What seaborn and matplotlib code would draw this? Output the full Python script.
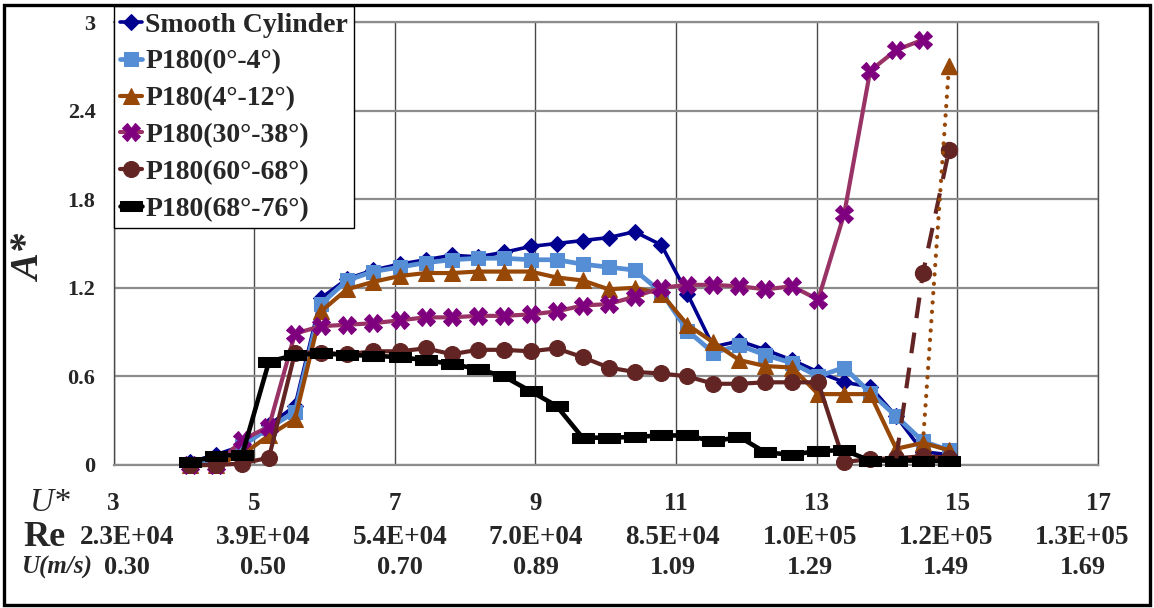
import numpy as np
import pandas as pd
import matplotlib
matplotlib.use("Agg")
import matplotlib.pyplot as plt
from matplotlib.patches import Rectangle
from matplotlib.path import Path
from matplotlib.transforms import blended_transform_factory
import seaborn as sns

# ---- data -------------------------------------------------------------
u_star = [4.09, 4.46, 4.83, 5.21, 5.58, 5.95, 6.32, 6.69, 7.07, 7.44,
          7.81, 8.18, 8.55, 8.93, 9.30, 9.67, 10.04, 10.41, 10.79, 11.16,
          11.53, 11.90, 12.27, 12.65, 13.02, 13.39, 13.76, 14.13, 14.51, 14.88]

smooth = [0.02, 0.07, 0.13, 0.27, 0.40, 1.13, 1.26, 1.32, 1.36, 1.39,
          1.42, 1.41, 1.44, 1.48, 1.50, 1.52, 1.54, 1.58, 1.49, 1.16,
          0.80, 0.84, 0.78, 0.71, 0.63, 0.56, 0.53, 0.33, 0.09, 0.07]

p180_0_4 = [0.01, 0.03, 0.13, 0.25, 0.36, 1.09, 1.25, 1.31, 1.34, 1.37,
            1.39, 1.40, 1.40, 1.39, 1.39, 1.36, 1.34, 1.32, 1.17, 0.91,
            0.76, 0.81, 0.745, 0.69, 0.60, 0.66, 0.49, 0.33, 0.16, 0.10]

p180_4_12 = [0.00, 0.00, 0.07, 0.20, 0.31, 1.04, 1.19, 1.24, 1.28, 1.30,
             1.30, 1.31, 1.31, 1.31, 1.27, 1.25, 1.19, 1.20, 1.16, 0.95,
             0.83, 0.71, 0.67, 0.66, 0.48, 0.48, 0.48, 0.11, 0.15, 0.10]

p180_30_38 = [0.00, 0.00, 0.17, 0.26, 0.89, 0.94, 0.95, 0.96, 0.98, 1.00,
              1.00, 1.01, 1.01, 1.02, 1.04, 1.08, 1.09, 1.14, 1.20, 1.22,
              1.22, 1.21, 1.19, 1.21, 1.12, 1.70, 2.67, 2.81, 2.88, np.nan]

p180_60_68 = [0.00, 0.00, 0.01, 0.05, 0.76, 0.76, 0.75, 0.77, 0.77, 0.79,
              0.75, 0.78, 0.78, 0.77, 0.79, 0.73, 0.66, 0.63, 0.62, 0.60,
              0.55, 0.55, 0.56, 0.56, 0.56, 0.02, 0.04, 0.045, 0.06, 0.05]

p180_68_76 = [0.02, 0.06, 0.07, 0.70, 0.745, 0.756, 0.745, 0.74, 0.73, 0.71,
              0.684, 0.65, 0.60, 0.50, 0.40, 0.185, 0.185, 0.19, 0.20, 0.20,
              0.16, 0.19, 0.085, 0.07, 0.095, 0.10, 0.03, 0.03, 0.03, 0.025]

# upper (galloping) branches at the highest speeds
branch_60_68_x = [14.13, 14.51, 14.88]
branch_60_68_y = [0.045, 1.30, 2.13]
branch_4_12_x = [14.51, 14.88]
branch_4_12_y = [0.15, 2.70]

series_labels = ["Smooth Cylinder", "P180(0°-4°)", "P180(4°-12°)",
                 "P180(30°-38°)", "P180(60°-68°)", "P180(68°-76°)"]

ustar_ticks = [3, 5, 7, 9, 11, 13, 15, 17]
re_labels = ["2.3E+04", "3.9E+04", "5.4E+04", "7.0E+04",
             "8.5E+04", "1.0E+05", "1.2E+05", "1.3E+05"]
u_labels = ["0.30", "0.50", "0.70", "0.89", "1.09", "1.29", "1.49", "1.69"]
row_label_x = [3.19, 5.13, 7.07, 9.01, 10.95, 12.90, 14.84, 16.78]
y_ticks = [0, 0.6, 1.2, 1.8, 2.4, 3]
y_tick_labels = ["0", "0.6", "1.2", "1.8", "2.4", "3"]

# ---- style ------------------------------------------------------------
sns.set_style("white")
plt.rcParams["font.family"] = ["Liberation Serif", "DejaVu Serif"]
plt.rcParams["font.weight"] = "bold"

NAVY = "#000090"
LBLUE = "#558ED5"
ORANGE = "#974706"
PURPLE = "#7F007F"
PURPLE_LINE = "#993366"
MAROON = "#632523"
BLACK = "#000000"

bar_marker = Path([(-1, -0.4), (1, -0.4), (1, 0.4), (-1, 0.4), (-1, -0.4)],
                  [Path.MOVETO, Path.LINETO, Path.LINETO, Path.LINETO, Path.CLOSEPOLY])

fig = plt.figure(figsize=(11.54, 6.08), dpi=100)
ax = fig.add_axes([0.0984, 0.2352, 0.8531, 0.7286])

styles = [
    (smooth, dict(color=NAVY, lw=2.6, marker="D", ms=8.5, mfc=NAVY, mec=NAVY)),
    (p180_0_4, dict(color=LBLUE, lw=3.4, marker="s", ms=10.5, mfc=LBLUE, mec=LBLUE)),
    (p180_4_12, dict(color=ORANGE, lw=3.0, marker="^", ms=12.0, mfc=ORANGE, mec=ORANGE)),
    (p180_30_38, dict(color=PURPLE_LINE, lw=3.0, marker="X", ms=12.5, mfc=PURPLE, mec=PURPLE)),
    (p180_60_68, dict(color=MAROON, lw=3.0, marker="o", ms=11.5, mfc=MAROON, mec=MAROON)),
    (p180_68_76, dict(color=BLACK, lw=3.3, marker=bar_marker, ms=16.5, mfc=BLACK, mec=BLACK)),
]

for i, ((vals, kw), lab) in enumerate(zip(styles, series_labels)):
    sns.lineplot(x=u_star, y=vals, ax=ax, sort=False, estimator=None,
                 label=lab, clip_on=False, zorder=3 + i, **kw)

# dashed / dotted upper branches
sns.lineplot(x=branch_60_68_x, y=branch_60_68_y, ax=ax, sort=False, estimator=None,
             color=MAROON, lw=3.0, linestyle=(0, (5, 3.5)), zorder=10)
ax.plot(branch_60_68_x[1:], branch_60_68_y[1:], ls="none", marker="o", ms=11.5,
        color=MAROON, zorder=10)
sns.lineplot(x=branch_4_12_x, y=branch_4_12_y, ax=ax, sort=False, estimator=None,
             color=ORANGE, lw=3.0, linestyle=(0, (0.05, 2.2)),
             dash_capstyle="round", zorder=10)
ax.plot(branch_4_12_x[1:], branch_4_12_y[1:], ls="none", marker="^", ms=12.0,
        color=ORANGE, zorder=10)

# ---- axes -------------------------------------------------------------
ax.set_xlim(3, 17)
ax.set_ylim(0, 3)
ax.set_xticks(ustar_ticks)
ax.set_yticks(y_ticks)
ax.set_yticklabels(y_tick_labels, fontsize=16, fontweight="bold")
ax.set_xlabel("")
ax.set_ylabel("")
ax.set_axisbelow(True)
ax.grid(axis="x", color="#4a4a4a", lw=1.0)
ax.grid(axis="y", color="#8c8c8c", lw=1.6)
ax.tick_params(axis="x", direction="out", length=6, width=1.0, color="#666666",
               labelbottom=False)
ax.tick_params(axis="y", direction="out", length=6, width=1.4, color="#8c8c8c", pad=7)
for side in ("left", "right"):
    ax.spines[side].set_color("#4a4a4a")
    ax.spines[side].set_linewidth(1.0)
for side in ("top", "bottom"):
    ax.spines[side].set_color("#8c8c8c")
    ax.spines[side].set_linewidth(1.6)

# three rows of x-axis labels under the plot
trans = blended_transform_factory(ax.transData, fig.transFigure)
for xv in ustar_ticks:
    ax.text(xv, 1 - 503 / 608, str(xv), transform=trans, ha="center", va="center",
            fontsize=18, fontweight="bold")
for xv, lab in zip(row_label_x, re_labels):
    ax.text(xv, 1 - 537 / 608, lab, transform=trans, ha="center", va="center",
            fontsize=19.5, fontweight="bold")
for xv, lab in zip(row_label_x, u_labels):
    ax.text(xv, 1 - 567 / 608, lab, transform=trans, ha="center", va="center",
            fontsize=19, fontweight="bold")

fig.text(50 / 1154, 1 - 503 / 608, "U*", ha="center", va="center",
         fontsize=24, fontstyle="italic", fontweight="normal")
fig.text(44 / 1154, 1 - 537 / 608, "Re", ha="center", va="center",
         fontsize=26, fontweight="bold")
fig.text(57 / 1154, 1 - 567 / 608, "U(m/s)", ha="center", va="center",
         fontsize=18, fontstyle="italic", fontweight="bold")
fig.text(31 / 1154, 1 - 258 / 608, "A*", ha="center", va="center", rotation=90,
         fontsize=29, fontstyle="italic", fontweight="bold")

# ---- legend -----------------------------------------------------------
handles, labels = ax.get_legend_handles_labels()
keep = [(h, l) for h, l in zip(handles, labels) if l in series_labels]
leg = ax.legend([h for h, _ in keep], [l for _, l in keep],
                loc="upper left", bbox_to_anchor=(114 / 1154, 1 - 6 / 608),
                bbox_transform=fig.transFigure, borderaxespad=0,
                prop=dict(family="Liberation Serif", weight="bold", size=20),
                handlelength=0.8, handletextpad=0.1, labelspacing=0.41,
                borderpad=0.22, fancybox=False, framealpha=1, edgecolor="black")
leg.get_frame().set_linewidth(1.0)
leg.set_zorder(20)

# outer frame of the figure
fig.patches.append(Rectangle((4 / 1154, 3 / 608), 1146 / 1154, 600 / 608,
                             transform=fig.transFigure, fill=False,
                             edgecolor="black", lw=2.4, zorder=0))

fig.savefig("out.png", dpi=100)
